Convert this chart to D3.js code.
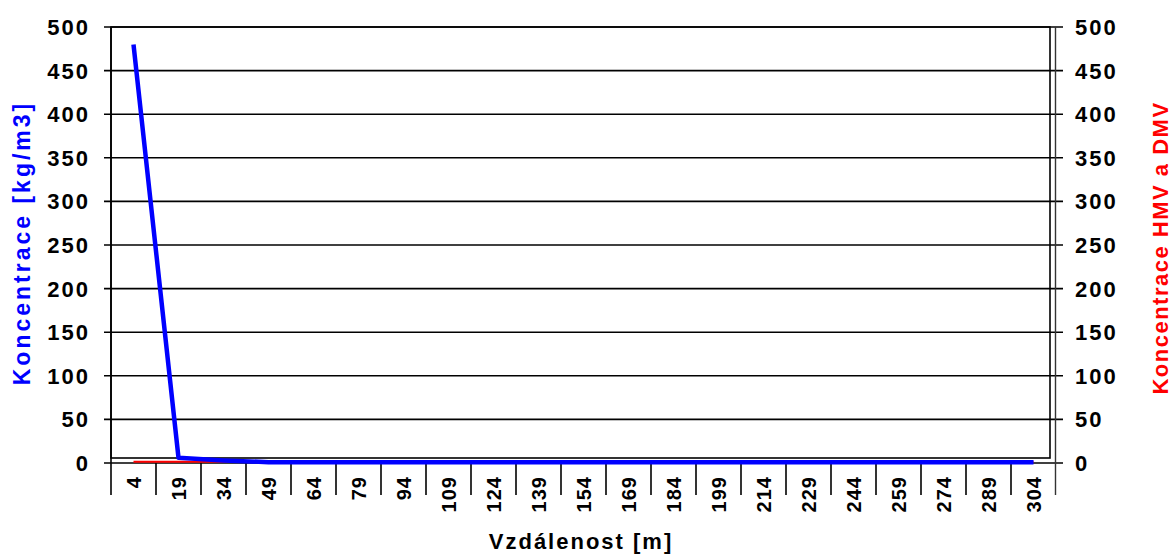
<!DOCTYPE html>
<html>
<head>
<meta charset="utf-8">
<script src="https://cdn.jsdelivr.net/npm/d3@7"></script>
<style>
  body { margin: 0; background: #fff; }
  svg { display: block; }
  text { font-family: "Liberation Sans", Arial, sans-serif; font-weight: bold; }
</style>
</head>
<body>
<svg width="1172" height="556"></svg>
<script>
var categories = [4, 19, 34, 49, 64, 79, 94, 109, 124, 139, 154, 169, 184, 199, 214, 229, 244, 259, 274, 289, 304];
// blue series - left axis
var koncentrace = [480, 6, 3, 1, 1, 1, 1, 1, 1, 1, 1, 1, 1, 1, 1, 1, 1, 1, 1, 1, 1];
// red series - right axis
var hmvDmv = [1.5, 1.5, 1.5, 1.5, 1.5, 1.5, 1.5, 1.5, 1.5, 1.5, 1.5, 1.5, 1.5, 1.5, 1.5, 1.5, 1.5, 1.5, 1.5, 1.5, 1.5];
var leftTicks = [0, 50, 100, 150, 200, 250, 300, 350, 400, 450, 500];
var rightTicks = [0, 50, 100, 150, 200, 250, 300, 350, 400, 450, 500];

var svg = d3.select("svg");

var x = d3.scaleBand().domain(categories).range([111, 1056]).padding(0);
var y = d3.scaleLinear().domain([0, 500]).range([463, 27]);
var y2 = d3.scaleLinear().domain([0, 500]).range([463, 27]);

function cx(d) { return x(d) + x.bandwidth() / 2; }

// gridlines incl. tick marks on both sides
svg.append("g").selectAll("line")
    .data(leftTicks)
    .enter().append("line")
    .attr("x1", 104).attr("x2", 1063)
    .attr("y1", function(d) { return y(d); })
    .attr("y2", function(d) { return y(d); })
    .style("stroke", "#000")
    .style("stroke-width", 1.6);

// plot area border
svg.append("rect")
    .attr("x", 111).attr("y", 27)
    .attr("width", 1050 - 111).attr("height", 458 - 27)
    .style("fill", "none")
    .style("stroke", "#000")
    .style("stroke-width", 1.6);

// left axis line
svg.append("line")
    .attr("x1", 111).attr("x2", 111).attr("y1", 27).attr("y2", 495)
    .style("stroke", "#000").style("stroke-width", 1.6);

// right axis line
svg.append("line")
    .attr("x1", 1055.5).attr("x2", 1055.5).attr("y1", 27).attr("y2", 495)
    .style("stroke", "#333").style("stroke-width", 1.4);

// category separators
svg.append("g").selectAll("line")
    .data(categories.slice(1))
    .enter().append("line")
    .attr("x1", function(d) { return x(d); })
    .attr("x2", function(d) { return x(d); })
    .attr("y1", 463).attr("y2", 495)
    .style("stroke", "#000")
    .style("stroke-width", 1.6);

// left tick labels
svg.append("g").selectAll("text")
    .data(leftTicks)
    .enter().append("text")
    .attr("x", 90)
    .attr("y", function(d) { return y(d); })
    .attr("dy", "0.36em")
    .attr("text-anchor", "end")
    .style("font-size", "22px")
    .style("letter-spacing", "2px")
    .text(function(d) { return d; });

// right tick labels
svg.append("g").selectAll("text")
    .data(rightTicks)
    .enter().append("text")
    .attr("x", 1075)
    .attr("y", function(d) { return y2(d); })
    .attr("dy", "0.36em")
    .style("font-size", "22px")
    .style("letter-spacing", "2px")
    .text(function(d) { return d; });

// category labels, rotated
svg.append("g").selectAll("text")
    .data(categories)
    .enter().append("text")
    .attr("transform", function(d) { return "translate(" + cx(d) + ",476) rotate(-90)"; })
    .attr("dy", "0.36em")
    .attr("text-anchor", "end")
    .style("font-size", "20px")
    .style("letter-spacing", "1px")
    .text(function(d) { return d; });

var line = d3.line()
    .x(function(d, i) { return cx(categories[i]); });

svg.append("path")
    .datum(hmvDmv)
    .attr("d", line.y(function(d) { return y2(d); }))
    .style("fill", "none")
    .style("stroke", "#ff0000")
    .style("stroke-width", 2);

svg.append("path")
    .datum(koncentrace)
    .attr("d", line.y(function(d) { return y(d); }))
    .style("fill", "none")
    .style("stroke", "#0000ff")
    .style("stroke-width", 4.5)
    .style("stroke-linejoin", "round");

// axis titles
svg.append("text")
    .attr("transform", "translate(30,243) rotate(-90)")
    .attr("text-anchor", "middle")
    .style("font-size", "23px")
    .style("letter-spacing", "3px")
    .style("fill", "#0000ff")
    .text("Koncentrace [kg/m3]");

svg.append("text")
    .attr("transform", "translate(1168,248) rotate(-90)")
    .attr("text-anchor", "middle")
    .style("font-size", "22px")
    .style("letter-spacing", "1.5px")
    .style("fill", "#ff0000")
    .text("Koncentrace HMV a DMV");

svg.append("text")
    .attr("x", 581)
    .attr("y", 549)
    .attr("text-anchor", "middle")
    .style("font-size", "22px")
    .style("letter-spacing", "2px")
    .text("Vzdálenost [m]");
</script>
</body>
</html>
